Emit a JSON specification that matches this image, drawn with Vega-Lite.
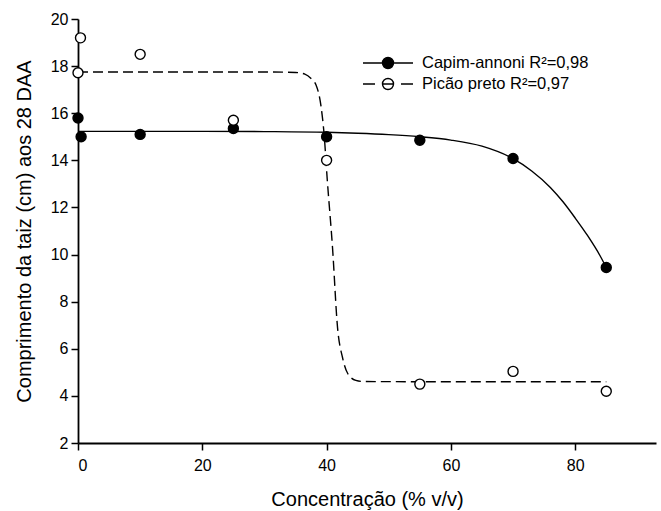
{
  "$schema": "https://vega.github.io/schema/vega-lite/v6.json",
  "width": 578,
  "height": 424,
  "autosize": {"type": "none"},
  "padding": {"left": 78, "top": 19, "right": 5, "bottom": 68},
  "background": "white",
  "config": {
    "view": {"stroke": null},
    "font": "Liberation Sans",
    "axis": {
      "grid": false,
      "domainColor": "black",
      "domainWidth": 1.8,
      "tickColor": "black",
      "tickWidth": 1.5,
      "tickSize": 7,
      "labelColor": "black",
      "labelFont": "Liberation Sans",
      "labelFontSize": 16,
      "titleColor": "black",
      "titleFont": "Liberation Sans",
      "titleFontSize": 20,
      "titleFontWeight": "normal"
    },
    "legend": {
      "title": null,
      "orient": "none",
      "legendX": 299,
      "legendY": 33,
      "padding": 0,
      "symbolSize": 400,
      "symbolStrokeWidth": 1.4,
      "symbolStrokeColor": "black",
      "labelOffset": 23,
      "rowPadding": 1,
      "labelFont": "Liberation Sans",
      "labelFontSize": 16.5,
      "labelColor": "black",
      "labelLimit": 400
    }
  },
  "datasets": {
    "points": [
      {"x": 0, "y": 15.8, "series": "Capim-annoni R²=0,98"},
      {"x": 0.5, "y": 15.0, "series": "Capim-annoni R²=0,98"},
      {"x": 10, "y": 15.1, "series": "Capim-annoni R²=0,98"},
      {"x": 25, "y": 15.35, "series": "Capim-annoni R²=0,98"},
      {"x": 40, "y": 15.0, "series": "Capim-annoni R²=0,98"},
      {"x": 55, "y": 14.85, "series": "Capim-annoni R²=0,98"},
      {"x": 70, "y": 14.08, "series": "Capim-annoni R²=0,98"},
      {"x": 85, "y": 9.45, "series": "Capim-annoni R²=0,98"},
      {"x": 0.4, "y": 19.2, "series": "Picão preto R²=0,97"},
      {"x": 0, "y": 17.72, "series": "Picão preto R²=0,97"},
      {"x": 10, "y": 18.5, "series": "Picão preto R²=0,97"},
      {"x": 25, "y": 15.7, "series": "Picão preto R²=0,97"},
      {"x": 40, "y": 14.0, "series": "Picão preto R²=0,97"},
      {"x": 55, "y": 4.5, "series": "Picão preto R²=0,97"},
      {"x": 70, "y": 5.04, "series": "Picão preto R²=0,97"},
      {"x": 85, "y": 4.2, "series": "Picão preto R²=0,97"}
    ],
    "curves": [
      {"x": 0, "y": 15.23, "series": "Capim-annoni R²=0,98"},
      {"x": 10, "y": 15.23, "series": "Capim-annoni R²=0,98"},
      {"x": 20, "y": 15.23, "series": "Capim-annoni R²=0,98"},
      {"x": 30, "y": 15.22, "series": "Capim-annoni R²=0,98"},
      {"x": 40, "y": 15.19, "series": "Capim-annoni R²=0,98"},
      {"x": 45, "y": 15.15, "series": "Capim-annoni R²=0,98"},
      {"x": 50, "y": 15.09, "series": "Capim-annoni R²=0,98"},
      {"x": 55, "y": 15.0, "series": "Capim-annoni R²=0,98"},
      {"x": 60, "y": 14.86, "series": "Capim-annoni R²=0,98"},
      {"x": 65, "y": 14.6, "series": "Capim-annoni R²=0,98"},
      {"x": 70, "y": 14.07, "series": "Capim-annoni R²=0,98"},
      {"x": 73, "y": 13.55, "series": "Capim-annoni R²=0,98"},
      {"x": 76, "y": 12.85, "series": "Capim-annoni R²=0,98"},
      {"x": 78, "y": 12.25, "series": "Capim-annoni R²=0,98"},
      {"x": 80, "y": 11.55, "series": "Capim-annoni R²=0,98"},
      {"x": 82, "y": 10.8, "series": "Capim-annoni R²=0,98"},
      {"x": 84, "y": 9.95, "series": "Capim-annoni R²=0,98"},
      {"x": 85, "y": 9.45, "series": "Capim-annoni R²=0,98"},
      {"x": 0, "y": 17.75, "series": "Picão preto R²=0,97"},
      {"x": 20, "y": 17.75, "series": "Picão preto R²=0,97"},
      {"x": 30, "y": 17.75, "series": "Picão preto R²=0,97"},
      {"x": 35, "y": 17.73, "series": "Picão preto R²=0,97"},
      {"x": 36.5, "y": 17.66, "series": "Picão preto R²=0,97"},
      {"x": 37.5, "y": 17.47, "series": "Picão preto R²=0,97"},
      {"x": 38.3, "y": 17.2, "series": "Picão preto R²=0,97"},
      {"x": 39.1, "y": 16.3, "series": "Picão preto R²=0,97"},
      {"x": 39.6, "y": 15.1, "series": "Picão preto R²=0,97"},
      {"x": 40.1, "y": 13.2, "series": "Picão preto R²=0,97"},
      {"x": 40.95, "y": 10.3, "series": "Picão preto R²=0,97"},
      {"x": 41.76, "y": 6.9, "series": "Picão preto R²=0,97"},
      {"x": 42.56, "y": 5.63, "series": "Picão preto R²=0,97"},
      {"x": 43.4, "y": 4.95, "series": "Picão preto R²=0,97"},
      {"x": 44.7, "y": 4.66, "series": "Picão preto R²=0,97"},
      {"x": 46, "y": 4.61, "series": "Picão preto R²=0,97"},
      {"x": 60, "y": 4.6, "series": "Picão preto R²=0,97"},
      {"x": 85, "y": 4.6, "series": "Picão preto R²=0,97"}
    ]
  },
  "encoding": {
    "x": {
      "field": "x", "type": "quantitative",
      "scale": {"domain": [0, 93], "nice": false, "zero": false},
      "axis": {"title": "Concentração (% v/v)", "values": [0, 20, 40, 60, 80], "labelPadding": 7, "titlePadding": 16}
    },
    "y": {
      "field": "y", "type": "quantitative",
      "scale": {"domain": [2, 20], "nice": false, "zero": false},
      "axis": {"title": "Comprimento da taiz (cm) aos 28 DAA", "values": [2, 4, 6, 8, 10, 12, 14, 16, 18, 20], "labelPadding": 3, "titlePadding": 16}
    }
  },
  "layer": [
    {
      "data": {"name": "curves"},
      "transform": [{"filter": {"field": "series", "equal": "Capim-annoni R²=0,98"}}],
      "mark": {"type": "line", "color": "black", "strokeWidth": 1.4, "interpolate": "monotone"},
      "encoding": {}
    },
    {
      "data": {"name": "curves"},
      "transform": [{"filter": {"field": "series", "equal": "Picão preto R²=0,97"}}],
      "mark": {"type": "line", "color": "black", "strokeWidth": 1.4, "strokeDash": [10, 5], "interpolate": "monotone"},
      "encoding": {}
    },
    {
      "data": {"name": "points"},
      "transform": [{"filter": {"field": "series", "equal": "Capim-annoni R²=0,98"}}],
      "mark": {"type": "point", "shape": "circle", "filled": true, "size": 100, "fill": "black", "stroke": "black", "strokeWidth": 1.4, "opacity": 1},
      "encoding": {}
    },
    {
      "data": {"name": "points"},
      "transform": [{"filter": {"field": "series", "equal": "Picão preto R²=0,97"}}],
      "mark": {"type": "point", "shape": "circle", "filled": true, "size": 100, "fill": "white", "stroke": "black", "strokeWidth": 1.4, "opacity": 1},
      "encoding": {}
    },
    {
      "data": {"name": "points"},
      "transform": [{"filter": {"field": "x", "lt": -1000}}],
      "mark": {"type": "point", "filled": false, "strokeWidth": 1.4, "opacity": 1},
      "encoding": {
        "stroke": {
          "field": "series", "type": "nominal",
          "scale": {"domain": ["Capim-annoni R²=0,98", "Picão preto R²=0,97"], "range": ["black", "black"]}
        },
        "fill": {
          "field": "series", "type": "nominal",
          "scale": {"domain": ["Capim-annoni R²=0,98", "Picão preto R²=0,97"], "range": ["black", "white"]}
        },
        "shape": {
          "field": "series", "type": "nominal",
          "scale": {
            "domain": ["Capim-annoni R²=0,98", "Picão preto R²=0,97"],
            "range": [
              "M-2.5,0H2.5M0.55,0A0.55,0.55,0,1,1,-0.55,0A0.55,0.55,0,1,1,0.55,0",
              "M-2.5,0H-1.3M1.3,0H2.5M-0.55,0H0.55M0.55,0A0.55,0.55,0,1,1,-0.55,0A0.55,0.55,0,1,1,0.55,0"
            ]
          }
        }
      }
    }
  ]
}
